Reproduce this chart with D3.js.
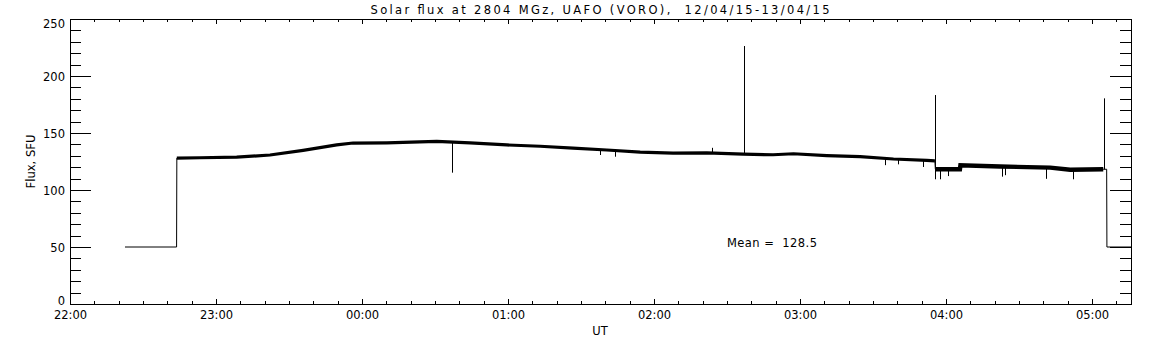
<!DOCTYPE html>
<html><head><meta charset="utf-8">
<script src="https://cdn.jsdelivr.net/npm/d3@7"></script>
<style>
html,body{margin:0;padding:0;background:#fff;}
text{font-family:"DejaVu Sans",sans-serif;font-size:11.5px;fill:#000;white-space:pre;}
</style></head>
<body>
<script>
// ---- data (time = minutes after 22:00 UT on 12/04/15; flux in SFU) ----
const title = "Solar flux at 2804 MGz, UAFO (VORO),  12/04/15-13/04/15";
const xLabel = "UT";
const yLabel = "Flux, SFU";
const meanLabel = "Mean =  128.5";
const yTicksMajor = [0, 50, 100, 150, 200, 250];
const xTickLabels = ["22:00", "23:00", "00:00", "01:00", "02:00", "03:00", "04:00", "05:00"];
const xTicksMajor = [0, 60, 120, 180, 240, 300, 360, 420];

// fill (no-data) level segments
const fillLeftMin = [22.6, 43.8];
const fillLeftFlux = [50, 50];
const fillRightMin = [426.1, 436];
const fillRightFlux = [50, 50];

// smooth flux curve (centre of the noisy band)
const curveMin  = [43.9, 53.4, 68.5, 82.2, 95.8, 109.6, 116.3, 130.2, 136.9, 150.7, 164.4, 179.5, 193.2, 206.7, 220.6, 234.3, 247.8, 261.7, 276.6, 288.9, 297.3, 311.0, 324.7, 338.4, 352.1, 355.4, 355.6, 365.7, 365.9, 382.2, 402.8, 411.0, 424.6, 426.0];
const curveFlux = [128.0, 128.3, 128.8, 130.7, 134.8, 139.6, 141.2, 141.4, 141.8, 142.6, 141.4, 139.5, 138.4, 136.8, 135.1, 133.2, 132.4, 132.5, 131.4, 130.9, 131.8, 130.2, 129.2, 127.2, 126.0, 125.6, 118.2, 118.2, 121.6, 120.6, 119.6, 117.8, 118.2, 118.2];

// isolated spikes and dips (time, peak value)
const spikeMin  = [156.9, 277.0, 355.5, 355.3, 424.7, 217.8, 224.0, 263.7, 334.8, 340.2, 350.6, 357.6, 360.9, 382.9, 384.3, 401.2, 412.0];
const spikeFlux = [115.2, 226.3, 183.3, 109.4, 180.4, 130.7, 129.2, 137.0, 121.8, 122.5, 120.2, 109.4, 112.2, 111.7, 113.0, 109.8, 109.4];

// ---- layout ----
const W = 1152, H = 345;
const L = 70, R = 1131, T = 19, B = 304;

const svg = d3.select("body").append("svg").attr("width", W).attr("height", H);

const x = d3.scaleLinear().domain([0, 436]).range([L, R]);
const y = d3.scaleLinear().domain([0, 250]).range([B, T]);

const xMinor = d3.range(0, 437, 10);
const yMinor = d3.range(0, 251, 10);

function clean(g){ g.select(".domain").remove(); g.selectAll("line").attr("stroke","#000").attr("shape-rendering","crispEdges"); }

svg.append("g").attr("transform",`translate(0,${B})`)
  .call(d3.axisBottom(x).tickValues(xMinor).tickSize(-3).tickFormat("")).call(clean);
svg.append("g").attr("transform",`translate(0,${B})`)
  .call(d3.axisBottom(x).tickValues(xTicksMajor).tickSize(-5).tickPadding(6.5)
        .tickFormat((d,i)=>xTickLabels[i])).call(clean)
  .selectAll("text").attr("font-family",null).attr("font-size",null);
svg.append("g").attr("transform",`translate(0,${T})`)
  .call(d3.axisTop(x).tickValues(xMinor).tickSize(-3).tickFormat("")).call(clean);
svg.append("g").attr("transform",`translate(0,${T})`)
  .call(d3.axisTop(x).tickValues(xTicksMajor).tickSize(-5).tickFormat("")).call(clean);

svg.append("g").attr("transform",`translate(${L},0)`)
  .call(d3.axisLeft(y).tickValues(yMinor).tickSize(-11).tickFormat("")).call(clean);
const yl = svg.append("g").attr("transform",`translate(${L},0)`)
  .call(d3.axisLeft(y).tickValues(yTicksMajor).tickSize(-21).tickPadding(5).tickFormat(d3.format("d"))).call(clean);
yl.selectAll("text").attr("font-family",null).attr("font-size",null)
  .attr("dy",(d)=> d===0 ? "0" : d===250 ? "0.7em" : "0.36em");
svg.append("g").attr("transform",`translate(${R},0)`)
  .call(d3.axisRight(y).tickValues(yMinor).tickSize(-11).tickFormat("")).call(clean);
svg.append("g").attr("transform",`translate(${R},0)`)
  .call(d3.axisRight(y).tickValues(yTicksMajor).tickSize(-21).tickFormat("")).call(clean);

// frame
svg.append("rect").attr("x",L+0.5).attr("y",T+0.5).attr("width",R-L).attr("height",B-T)
  .attr("fill","none").attr("stroke","#000").attr("stroke-width",1);

// clip
svg.append("clipPath").attr("id","clip").append("rect").attr("x",L).attr("y",T).attr("width",R-L+1).attr("height",B-T);
const plot = svg.append("g").attr("clip-path","url(#clip)");

const line = d3.line().x(d=>x(d[0])).y(d=>y(d[1]));

// thin full series
const full = []
  .concat(fillLeftMin.map((m,i)=>[m, fillLeftFlux[i]]))
  .concat(curveMin.map((m,i)=>[m, curveFlux[i]]))
  .concat(fillRightMin.map((m,i)=>[m, fillRightFlux[i]]));
plot.append("path").attr("d", line(full)).attr("fill","none").attr("stroke","#000").attr("stroke-width",1);

// noisy band
const curve = curveMin.map((m,i)=>[m, curveFlux[i]]);
plot.append("path").attr("d", line(curve.filter(d=>d[0] <= 355.4)))
  .attr("fill","none").attr("stroke","#000").attr("stroke-width",3.2);
plot.append("path").attr("d", line(curve.filter(d=>d[0] >= 355.6 && d[0] <= 424.6)))
  .attr("fill","none").attr("stroke","#000").attr("stroke-width",4.4);

// spikes: vertical lines from the curve level to the spike value
const curveAt = d3.scaleLinear().domain(curveMin).range(curveFlux);
plot.selectAll("line.spike").data(spikeMin.map((m,i)=>[m, spikeFlux[i]])).enter().append("line")
  .attr("class","spike")
  .attr("x1",d=>Math.round(x(d[0]))+0.5).attr("x2",d=>Math.round(x(d[0]))+0.5)
  .attr("y1",d=>y(curveAt(d[0]))).attr("y2",d=>y(d[1]))
  .attr("stroke","#000").attr("stroke-width",1);

// texts
svg.append("text").attr("x",600).attr("y",14).attr("text-anchor","middle")
  .attr("textLength",459).attr("lengthAdjust","spacing").text(title);
svg.append("text").attr("x",600).attr("y",335).attr("text-anchor","middle").text(xLabel);
svg.append("text").attr("transform","translate(35,161.5) rotate(-90)").attr("text-anchor","middle")
  .attr("textLength",54).attr("lengthAdjust","spacingAndGlyphs").text(yLabel);
svg.append("text").attr("x",727).attr("y",247).attr("textLength",90).attr("lengthAdjust","spacing").text(meanLabel);
</script>
</body></html>
